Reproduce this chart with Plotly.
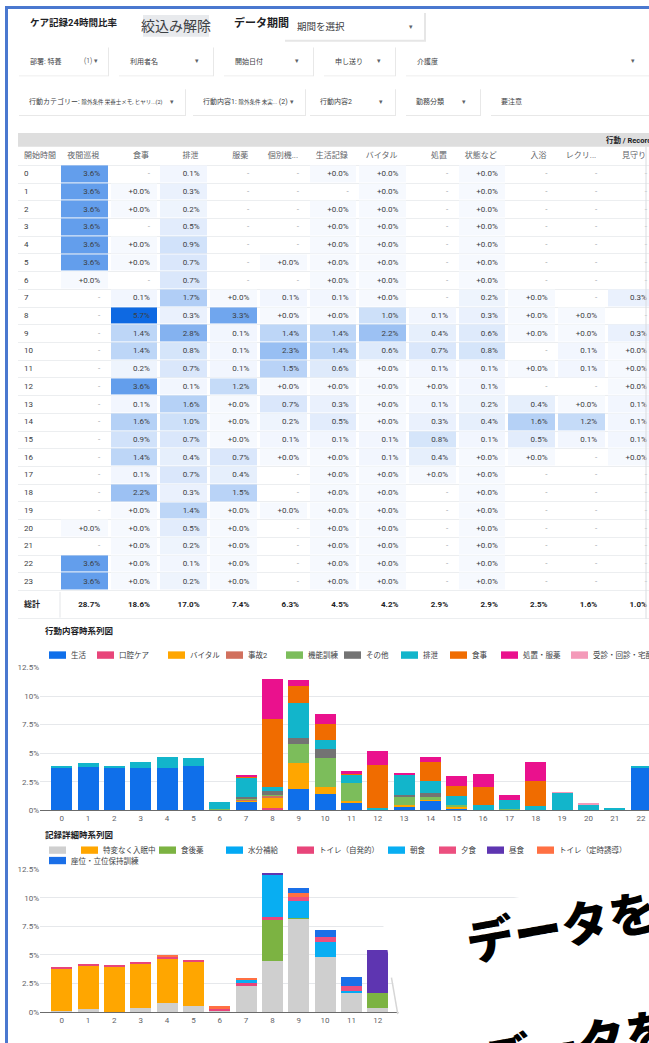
import plotly.graph_objects as go

W, H = 649, 1043
def X(p): return p / W
def Y(p): return 1 - p / H

FONT = "Roboto, 'Noto Sans CJK JP', sans-serif"
JP = "'Noto Sans CJK JP', Roboto, sans-serif"

# ---------------- table data ----------------
table_headers = ["開始時間", "夜間巡視", "食事", "排泄", "服薬", "個別機...", "生活記録",
                 "バイタル", "処置", "状態など", "入浴", "レクリ...", "見守り"]
start_hours = [str(h) for h in range(24)]
col_yakan = ["3.6%","3.6%","3.6%","3.6%","3.6%","3.6%","+0.0%","-","-","-","-","-","-","-","-","-","-","-","-","-","+0.0%","-","3.6%","3.6%"]
col_shokuji = ["-","+0.0%","+0.0%","-","+0.0%","+0.0%","-","0.1%","5.7%","1.4%","1.4%","0.2%","3.6%","0.1%","1.6%","0.9%","1.4%","0.1%","2.2%","+0.0%","+0.0%","+0.0%","+0.0%","+0.0%"]
col_haisetsu = ["0.1%","0.3%","0.2%","0.5%","0.9%","0.7%","0.7%","1.7%","0.3%","2.8%","0.8%","0.7%","0.1%","1.6%","1.0%","0.7%","0.4%","0.7%","0.3%","1.4%","0.5%","0.2%","0.1%","0.2%"]
col_fukuyaku = ["-","-","-","-","-","-","-","+0.0%","3.3%","0.1%","0.1%","0.1%","1.2%","+0.0%","+0.0%","+0.0%","0.7%","0.4%","1.5%","+0.0%","+0.0%","+0.0%","+0.0%","+0.0%"]
col_kobetsu = ["-","-","-","-","-","+0.0%","-","0.1%","+0.0%","1.4%","2.3%","1.5%","+0.0%","0.7%","0.2%","0.1%","+0.0%","-","-","+0.0%","-","-","-","-"]
col_seikatsu = ["+0.0%","-","+0.0%","+0.0%","+0.0%","+0.0%","+0.0%","0.1%","+0.0%","1.4%","1.4%","0.6%","+0.0%","0.3%","0.5%","0.1%","+0.0%","+0.0%","+0.0%","+0.0%","+0.0%","+0.0%","+0.0%","+0.0%"]
col_vital = ["+0.0%","+0.0%","+0.0%","+0.0%","+0.0%","+0.0%","+0.0%","+0.0%","1.0%","2.2%","0.6%","+0.0%","+0.0%","+0.0%","+0.0%","0.1%","0.1%","+0.0%","+0.0%","+0.0%","+0.0%","+0.0%","+0.0%","+0.0%"]
col_shochi = ["-","-","-","-","-","-","-","-","0.1%","0.4%","0.7%","0.1%","+0.0%","0.1%","0.3%","0.8%","0.4%","+0.0%","-","-","-","-","-","-"]
col_jotai = ["+0.0%","+0.0%","+0.0%","+0.0%","+0.0%","+0.0%","+0.0%","0.2%","0.3%","0.6%","0.8%","0.1%","0.1%","0.2%","0.4%","0.1%","+0.0%","+0.0%","+0.0%","+0.0%","+0.0%","+0.0%","+0.0%","+0.0%"]
col_nyuyoku = ["-","-","-","-","-","-","-","+0.0%","+0.0%","+0.0%","-","+0.0%","-","0.4%","1.6%","0.5%","+0.0%","-","-","-","-","-","-","-"]
col_rec = ["-","-","-","-","-","-","-","-","+0.0%","+0.0%","0.1%","0.1%","-","+0.0%","1.2%","0.1%","-","-","-","-","-","-","-","-"]
col_mimamori = ["-","-","-","-","-","-","-","0.3%","-","0.3%","+0.0%","+0.0%","+0.0%","0.1%","0.1%","0.1%","+0.0%","-","-","-","-","-","-","-"]
table_totals = ["総計","28.7%","18.6%","17.0%","7.4%","6.3%","4.5%","4.2%","2.9%","2.9%","2.5%","1.6%","1.0%"]

value_cols = [col_yakan, col_shokuji, col_haisetsu, col_fukuyaku, col_kobetsu, col_seikatsu,
              col_vital, col_shochi, col_jotai, col_nyuyoku, col_rec, col_mimamori]

def num(s):
    if s == "-":
        return None
    return float(s.replace("%", "").replace("+", ""))

# ---------------- chart 1 data (行動内容時系列図) ----------------
hours = list(range(24))
s_seikatsu = [3.7,3.76,3.7,3.7,3.7,3.9,0,0.8,0,1.82,1.44,0.72,0,0.38,0.92,0.2,0,0,0,0,0,0,3.7,3.7]
s_koku     = [0,0,0,0,0,0,0,0,0.2,0,0,0,0,0,0,0,0,0,0,0,0,0,0,0]
s_vital    = [0,0,0,0,0,0,0,0.1,1.0,2.3,0.64,0.08,0,0.1,0.1,0.15,0,0,0,0,0,0,0,0]
s_jiko2    = [0,0,0,0,0,0,0,0.05,0.1,0,0,0,0,0,0,0.05,0,0,0,0,0,0,0,0]
s_kinou    = [0,0,0,0,0,0,0.1,0.1,0.05,1.65,2.46,1.6,0.1,0.76,0.15,0.1,0.05,0.1,0,0,0,0,0,0]
s_sonota   = [0,0,0,0,0,0,0,0.15,0.3,0.58,0.81,0,0,0.1,0.36,0,0,0,0,0,0,0,0,0]
s_haisetsu = [0.2,0.35,0.2,0.55,1.0,0.65,0.65,1.7,0.35,3.04,0.84,0.78,0.13,1.8,1.07,0.75,0.45,0.8,0.35,1.56,0.52,0.2,0.2,0.2]
s_shokuji  = [0,0,0,0,0,0,0,0.1,6.0,1.5,1.39,0.12,3.73,0,1.65,0.9,1.52,0,2.25,0,0,0,0,0]
s_shochi   = [0,0,0,0,0,0,0,0.05,3.5,0.5,0.87,0.17,1.21,0.12,0.38,0.86,1.13,0.4,1.6,0,0,0,0,0]
s_jushin   = [0,0,0,0,0,0,0,0,0,0,0,0,0,0,0,0,0,0,0,0.05,0.1,0,0,0]
chart1_names = ["生活", "口腔ケア", "バイタル", "事故2", "機能訓練", "その他", "排泄", "食事", "処置・服薬", "受診・回診・宅配"]
chart1_values = [s_seikatsu, s_koku, s_vital, s_jiko2, s_kinou, s_sonota, s_haisetsu, s_shokuji, s_shochi, s_jushin]
chart1_colors = ["#0f6fea", "#e8457a", "#ffa600", "#d1705d", "#7cbd5b", "#737373", "#12b5cb", "#f06c00", "#ea118d", "#f49ab9"]

# ---------------- chart 2 data (記録詳細時系列図) ----------------
hours2 = list(range(13))
d_blank   = [0.05,0.26,0.03,0.38,0.81,0.5,0.15,2.26,4.5,8.16,4.79,1.62,0.32]
d_tokuhen = [3.67,3.81,3.89,3.86,3.87,3.91,0,0,0,0,0,0,0]
d_shokugo = [0,0,0,0,0,0,0,0,3.57,0.04,0,0,1.36]
d_suibun  = [0,0,0,0,0,0,0,0,0,0,0,0.18,0]
d_toilet1 = [0.2,0.11,0.11,0.15,0.15,0.15,0.14,0.29,0.23,0,0,0,0]
d_choshoku= [0,0,0,0,0,0,0,0.24,3.7,1.47,1.33,0,0]
d_yushoku = [0,0,0,0,0,0,0,0,0,0.43,0.41,0.46,0]
d_chushoku= [0,0,0,0,0,0,0,0,0.1,0,0,0,3.78]
d_toilet2 = [0,0,0,0,0.11,0,0.23,0.09,0,0.35,0,0,0]
d_zai     = [0,0,0,0,0,0,0,0,0,0.44,0.64,0.76,0]
chart2_names = ["", "特変なく入眠中", "食後薬", "水分補給", "トイレ（自発的）", "朝食", "夕食", "昼食", "トイレ（定時誘導）", "座位・立位保持訓練"]
chart2_values = [d_blank, d_tokuhen, d_shokugo, d_suibun, d_toilet1, d_choshoku, d_yushoku, d_chushoku, d_toilet2, d_zai]
chart2_colors = ["#cfcfcf", "#ffa600", "#7cb342", "#03a9f4", "#e8457a", "#08aef2", "#ec4f7f", "#5e35b1", "#ff7043", "#1a6fe8"]

y_ticks = [0, 2.5, 5, 7.5, 10, 12.5]
y_ticktext = ["0%", "2.5%", "5%", "7.5%", "10%", "12.5%"]

fig = go.Figure()

# ---------------- table (heatmap + text, axes in page-pixel units) ----------------
COLW = [42] + [49.7] * 12
col_edges = [18.0]
for w in COLW:
    col_edges.append(col_edges[-1] + w)
ROW_TOP, ROW_H = 162.8, 17.87
row_edges = [ROW_TOP + i * ROW_H for i in range(25)]
row_mid = [(row_edges[i] + row_edges[i + 1]) / 2 for i in range(24)]
HEAD_Y, TOTAL_Y = 153.3, 606.0

z = [[num(col[r]) for col in value_cols] for r in range(24)]
fig.add_trace(go.Heatmap(
    x=col_edges[1:], y=row_edges, z=z, xaxis="x3", yaxis="y3",
    zmin=0, zmax=5.7, colorscale=[[0, "#f6f9fe"], [1, "#0e69e2"]],
    showscale=False, xgap=3, ygap=1, hoverinfo="skip"))

tx, ty, tt, tc = [], [], [], []
for c, col in enumerate(value_cols):
    for r, s in enumerate(col):
        tx.append(col_edges[c + 2] - 9.5)
        ty.append(row_mid[r])
        tt.append(s)
        tc.append("#9aa0a6" if s == "-" else "#3c4043")
fig.add_trace(go.Scatter(x=tx, y=ty, text=tt, mode="text", textposition="middle left",
                         textfont=dict(family=FONT, size=8, color=tc), xaxis="x3", yaxis="y3",
                         hoverinfo="skip", cliponaxis=False))
fig.add_trace(go.Scatter(x=[24] * 24, y=row_mid, text=start_hours, mode="text", textposition="middle right",
                         textfont=dict(family=FONT, size=8, color="#3c4043"), xaxis="x3", yaxis="y3",
                         hoverinfo="skip", cliponaxis=False))
fig.add_trace(go.Scatter(x=[24] + [col_edges[i + 1] - 10.5 for i in range(1, 13)], y=[HEAD_Y] * 13,
                         text=table_headers, mode="text",
                         textposition=["middle right"] + ["middle left"] * 12,
                         textfont=dict(family=FONT, size=8, color="#5f6368"), xaxis="x3", yaxis="y3",
                         hoverinfo="skip", cliponaxis=False))
fig.add_trace(go.Scatter(x=[24] + [col_edges[i + 1] - 9.5 for i in range(1, 13)], y=[TOTAL_Y] * 13,
                         text=["<b>%s</b>" % t for t in table_totals], mode="text",
                         textposition=["middle right"] + ["middle left"] * 12,
                         textfont=dict(family=FONT, size=8, color="#202124"), xaxis="x3", yaxis="y3",
                         hoverinfo="skip", cliponaxis=False))

# ---------------- chart 1 ----------------
for name, vals, col in zip(chart1_names, chart1_values, chart1_colors):
    fig.add_trace(go.Bar(x=hours, y=vals, name=name, marker=dict(color=col, line=dict(width=0)),
                         xaxis="x", yaxis="y", showlegend=False, hoverinfo="skip"))
# ---------------- chart 2 ----------------
for name, vals, col in zip(chart2_names, chart2_values, chart2_colors):
    fig.add_trace(go.Bar(x=hours2, y=vals, name=name, marker=dict(color=col, line=dict(width=0)),
                         xaxis="x2", yaxis="y2", showlegend=False, hoverinfo="skip"))

axis_common = dict(range=[-0.824, 22.30], showgrid=False, showline=True, linecolor="#6b6b6b",
                   linewidth=1, ticks="", tickfont=dict(family=FONT, size=8, color="#5f6368"),
                   zeroline=False, fixedrange=True)
yaxis_common = dict(range=[0, 12.5], tickvals=y_ticks, ticktext=y_ticktext, showgrid=True,
                    gridcolor="#e6e8eb", gridwidth=1, zeroline=False, showline=False, ticks="",
                    tickfont=dict(family=FONT, size=8, color="#5f6368"), fixedrange=True)

fig.update_layout(
    width=W, height=H, margin=dict(l=0, r=0, t=0, b=0),
    paper_bgcolor="#ffffff", plot_bgcolor="rgba(0,0,0,0)",
    barmode="stack", bargap=0.2, showlegend=False,
    font=dict(family=FONT, color="#3c4043"),
    xaxis=dict(domain=[X(40), 1], anchor="y", tickvals=hours, ticktext=[str(h) for h in hours], **axis_common),
    yaxis=dict(domain=[Y(813.3), Y(669.3)], anchor="x", **yaxis_common),
    xaxis2=dict(domain=[X(40), 1], anchor="y2", tickvals=hours2, ticktext=[str(h) for h in hours2], **axis_common),
    yaxis2=dict(domain=[Y(1016.7), Y(872.7)], anchor="x2", **yaxis_common),
    xaxis3=dict(domain=[X(18), 1], anchor="y3", range=[18, 649], visible=False, fixedrange=True),
    yaxis3=dict(domain=[Y(622), Y(144)], anchor="x3", range=[622, 144], showticklabels=False,
                tickvals=row_edges + [620], showgrid=True, gridcolor="#eceef0", gridwidth=1,
                zeroline=False, showline=False, ticks="", fixedrange=True),
)

shapes = []
ann = []
def rect(x0, y0, x1, y1, fill, line=None, lw=0, layer="above"):
    shapes.append(dict(type="rect", xref="paper", yref="paper", x0=X(x0), x1=X(x1), y0=Y(y1), y1=Y(y0),
                       fillcolor=fill, line=dict(color=line or fill, width=lw), layer=layer))
def seg(x0, y0, x1, y1, color, w=1):
    shapes.append(dict(type="line", xref="paper", yref="paper", x0=X(x0), x1=X(x1), y0=Y(y0), y1=Y(y1),
                       line=dict(color=color, width=w)))
def text(x, y, s, size=8, color="#3c4043", anchor="left", bold=False, family=FONT, angle=0, weight=None):
    f = dict(family=family, size=size, color=color)
    if weight:
        f["weight"] = weight
    ann.append(dict(x=X(x), y=Y(y), xref="paper", yref="paper", text=("<b>%s</b>" % s) if bold else s,
                    showarrow=False, xanchor=anchor, yanchor="middle", font=f, textangle=angle))

# frame
shapes.append(dict(type="rect", xref="paper", yref="paper", x0=X(6.5), x1=X(700), y0=Y(1100), y1=Y(3.5),
                   line=dict(color="#4a78cf", width=3), fillcolor="rgba(0,0,0,0)"))

# header
text(28, 19, "ケア記録24時間比率", size=9.5, color="#202124", bold=True)
rect(143, 11, 209, 33, "#e8eaed")
text(176, 22, "絞込み解除", size=14, color="#3c4043", anchor="center")
text(232, 19, "データ期間", size=11, color="#202124", bold=True)
rect(285, 9, 426, 38, "#e6e6e6")
rect(284, 8, 424, 36, "#ffffff")
text(295, 23, "期間を選択", size=9.5, color="#3c4043")
text(411, 23, "▾", size=7, color="#5f6368", anchor="center")

filters_row1 = [(18, 108, "部署: 特養", "(1) ▾", 100), (118, 213, "利用者名", "▾", 201),
                (223, 313, "開始日付", "▾", 301), (323, 395, "申し送り", "▾", 383), (405, 700, "介護度", "▾", 637)]
for x0, x1, lab, arr, ax in filters_row1:
    rect(x0 + 1, 44, x1 + 1, 73, "#e8e8e8")
    rect(x0, 43, x1, 72, "#ffffff")
    text(x0 + 10, 57.5, lab, size=7, color="#3c4043")
    text(ax, 57.5, arr, size=6.5, color="#5f6368", anchor="right")

filters_row2 = [(18, 185, "行動カテゴリー: <span style='font-size:5.5px'>除外条件 栄養士メモ, ヒヤリ...(2)</span>", "▾", 176),
                (192, 305, "行動内容1: <span style='font-size:5.5px'>除外条件 未実...</span> (2)", "▾", 296),
                (309, 395, "行動内容2", "▾", 385), (405, 480, "勤務分類", "▾", 468), (490, 700, "要注意", "", 0)]
for x0, x1, lab, arr, ax in filters_row2:
    rect(x0 + 1, 86, x1 + 1, 113, "#e8e8e8")
    rect(x0, 85, x1, 112, "#ffffff")
    text(x0 + 9, 98.5, lab, size=7, color="#3c4043")
    if arr:
        text(ax, 98.5, arr, size=6.5, color="#5f6368", anchor="right")

# table title bar and borders
rect(18, 130, 700, 144, "#dedede")
text(604, 137, "行動 / Record", size=7.5, color="#202124", bold=True)
seg(646, 144, 646, 620, "#dadce0")
seg(60, 593, 60, 619, "#e3e5e8")

# chart titles
text(43, 632.5, "行動内容時系列図", size=8.5, color="#202124", bold=True)
text(43, 838.5, "記録詳細時系列図", size=8.5, color="#202124", bold=True)

# chart 1 legend
leg1_x = [49, 97, 168, 226, 286, 344, 401, 450, 501, 571]
for lx, name, col in zip(leg1_x, chart1_names, chart1_colors):
    rect(lx, 653, lx + 17, 660.5, col)
    text(lx + 20, 657, name, size=7.5, color="#3c4043")

# chart 2 legend
leg2_pos = [(49, 853.5), (81, 853.5), (159, 853.5), (226, 853.5), (297, 853.5), (388, 853.5),
            (439, 853.5), (487, 853.5), (537, 853.5), (49, 864)]
for (lx, ly), name, col in zip(leg2_pos, chart2_names, chart2_colors):
    rect(lx, ly - 3.7, lx + 17, ly + 3.7, col)
    if name:
        text(lx + 20, ly, name, size=7.5, color="#3c4043")

# overlay (white rotated card with big text)
def P(x, y):
    return f"{X(x)},{Y(y)}"
TL = (382.5, 925.0)
k_top, k_left = 0.1763, 0.171
shapes.append(dict(type="path", xref="paper", yref="paper", layer="above",
                   path=(f"M {P(*TL)} L {P(720, TL[1] - (720 - TL[0]) * k_top)} "
                         f"L {P(760, 1100)} L {P(TL[0] + (1100 - TL[1]) * k_left, 1100)} Z"),
                   fillcolor="#ffffff", line=dict(color="rgba(0,0,0,0)", width=0)))
seg(TL[0] + (982 - TL[1]) * k_left - 0.8, 982, TL[0] + (1019 - TL[1]) * k_left - 0.8, 1019, "#d6d6d6", 1.5)
text(561, 928, "データを", size=48, color="#000000", anchor="center", family=JP, angle=-10, weight=900)
text(578, 1047, "データを", size=48, color="#000000", anchor="center", family=JP, angle=-10, weight=900)

fig.update_layout(shapes=shapes, annotations=ann)

fig.write_html("out.html", config={"displayModeBar": False},
               post_script="document.body.style.margin='0';document.body.style.overflow='hidden';")
